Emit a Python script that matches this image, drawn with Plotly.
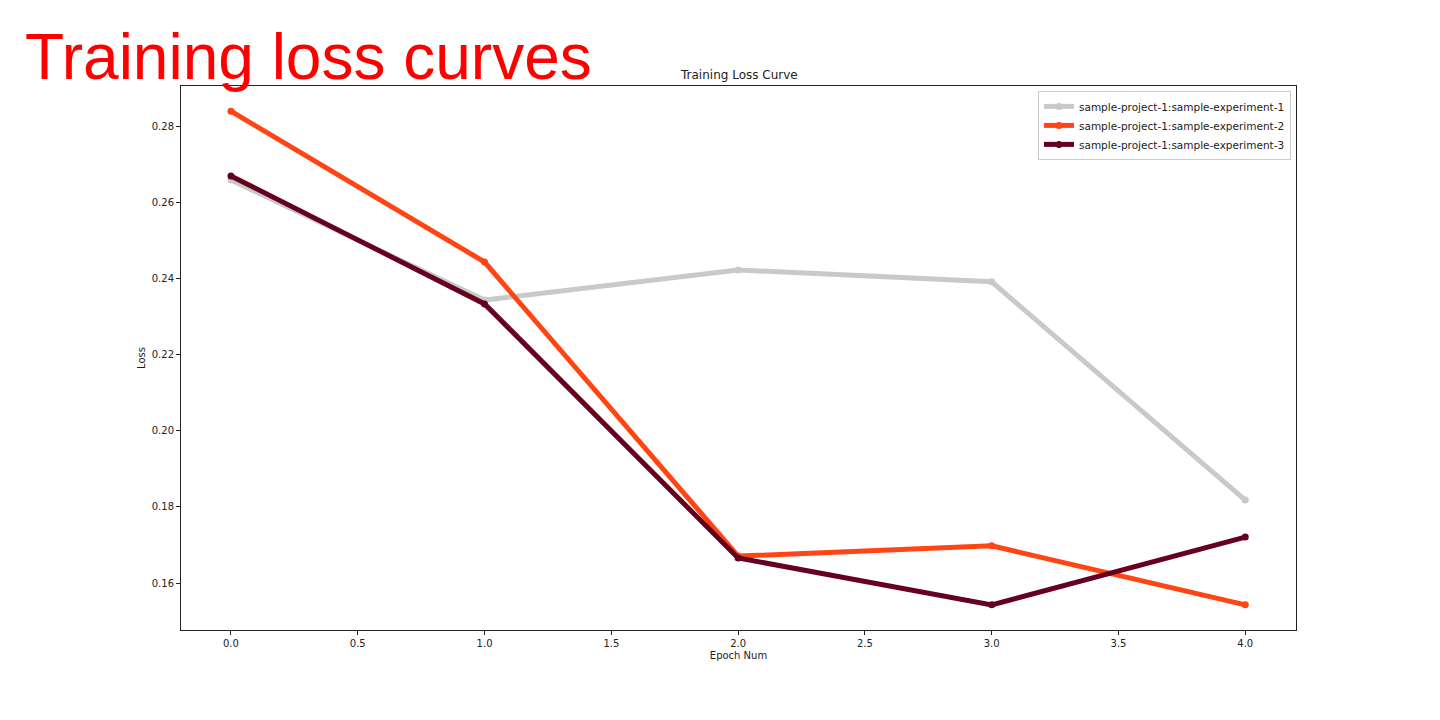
import plotly.graph_objects as go

epochs = [0, 1, 2, 3, 4]
exp1 = [0.2658, 0.2343, 0.2422, 0.2391, 0.1818]
exp2 = [0.2839, 0.2443, 0.1671, 0.1698, 0.1543]
exp3 = [0.2669, 0.2333, 0.1666, 0.1543, 0.1721]
names = ["sample-project-1:sample-experiment-1",
         "sample-project-1:sample-experiment-2",
         "sample-project-1:sample-experiment-3"]
colors = ["#c8cac8", "#ff4513", "#67001f"]

fig = go.Figure()
for ys, n, c in zip([exp1, exp2, exp3], names, colors):
    fig.add_trace(go.Scatter(x=epochs, y=ys, name=n, mode="lines+markers",
                             line=dict(color=c, width=5),
                             marker=dict(color=c, size=7)))

axis_common = dict(showline=True, linecolor="#222", linewidth=1, mirror=True,
                   ticks="outside", ticklen=4, tickcolor="#222", showgrid=False,
                   zeroline=False, tickfont=dict(family="DejaVu Sans", size=10, color="#222"))
fig.update_layout(
    width=1440, height=720,
    paper_bgcolor="white", plot_bgcolor="white",
    margin=dict(l=181, r=144, t=86, b=90),
    font=dict(family="DejaVu Sans", size=10, color="#222"),
    showlegend=True,
    legend=dict(x=0.9955, y=0.991, xanchor="right", yanchor="top",
                bgcolor="white", bordercolor="#ccc", borderwidth=1,
                font=dict(family="DejaVu Sans", size=10.5, color="#222"),
                tracegroupgap=0, itemwidth=30),
    xaxis=dict(range=[-0.197, 4.2], tickvals=[0, 0.5, 1, 1.5, 2, 2.5, 3, 3.5, 4],
               tickformat=".1f", title=dict(text="Epoch Num", font=dict(size=10), standoff=3),
               **axis_common),
    yaxis=dict(range=[0.1477, 0.2905], tickvals=[0.16, 0.18, 0.20, 0.22, 0.24, 0.26, 0.28],
               tickformat=".2f", title=dict(text="Loss", font=dict(size=10), standoff=4),
               **axis_common),
    annotations=[
        dict(text="Training loss curves", xref="paper", yref="paper", x=0, y=1,
             xanchor="left", yanchor="bottom", showarrow=False, xshift=-158, yshift=-9,
             font=dict(family="Liberation Sans", size=64, color="#ff0000")),
        dict(text="Training Loss Curve", xref="paper", yref="paper", x=0.5, y=1,
             xanchor="center", yanchor="bottom", showarrow=False, yshift=2,
             font=dict(family="DejaVu Sans", size=12, color="#222")),
    ],
)
fig.write_html("out.html")
